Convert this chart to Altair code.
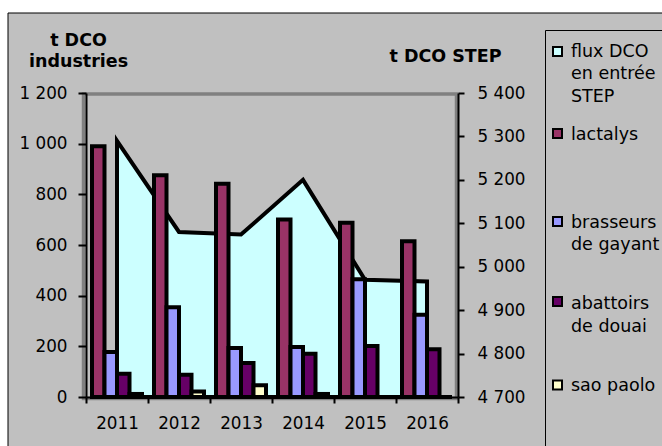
import altair as alt
import pandas as pd

# ---------------- data ----------------
years = ["2011", "2012", "2013", "2014", "2015", "2016"]
series = ["lactalys", "brasseurs de gayant", "abattoirs de douai", "sao paolo"]
lactalys = [990, 875, 842, 701, 688, 615]
brasseurs = [178, 354, 193, 197, 465, 325]
abattoirs = [92, 88, 134, 171, 201, 188]
sao_paolo = [12, 22, 46, 12, 0, 0]
flux_step = [5290, 5080, 5074, 5200, 4970, 4966]

legend_names = ["flux DCO en entrée STEP", "lactalys", "brasseurs de gayant",
                "abattoirs de douai", "sao paolo"]
legend_labels = ["flux DCO\nen entrée\nSTEP", "lactalys", "brasseurs\nde gayant",
                 "abattoirs\nde douai", "sao paolo"]
colors = ["#CCFFFF", "#993366", "#9999FF", "#660066", "#FFFFCC"]

left_ticks = [0, 200, 400, 600, 800, 1000, 1200]
right_ticks = [4700, 4800, 4900, 5000, 5100, 5200, 5300, 5400]

# ---------------- layout ----------------
W, H = 372, 304
PL, PT = 86, 93
FONT = "DejaVu Sans"
legend_square_abs_y = [51.5, 133.5, 221.5, 301.5, 385]
legend_text_abs_y = [56.5, 139.5, 227.5, 309, 390.5]

bars_df = pd.DataFrame(
    [{"year": y, "series": s, "value": v}
     for s, vals in zip(series, [lactalys, brasseurs, abattoirs, sao_paolo])
     for y, v in zip(years, vals)]
)
flux_df = pd.DataFrame({"year": years, "flux": flux_step})
legend_df = pd.DataFrame({
    "name": legend_names,
    "label": legend_labels,
    "sy": [v - PT for v in legend_square_abs_y],
    "ty": [v - PT for v in legend_text_abs_y],
})
one = pd.DataFrame({"a": [0]})

color_scale = alt.Scale(domain=legend_names, range=colors)
x_scale = alt.Scale(domain=years, paddingInner=0, paddingOuter=0)
x_axis = alt.Axis(title=None, labelAngle=0, tickBand="extent", tickSize=6,
                  labelPadding=12, zindex=1)
thousands = "replace(format(datum.value, ',d'), ',', ' ')"

# frame / backgrounds
frame = alt.Chart(one).mark_rect(fill="#C0C0C0", stroke="black", strokeWidth=1).encode(
    x=alt.value(8 - PL), x2=alt.value(720 - PL), y=alt.value(13 - PT), y2=alt.value(500 - PT))
legend_box = alt.Chart(one).mark_rect(fillOpacity=0, stroke="black", strokeWidth=1).encode(
    x=alt.value(545.5 - PL), x2=alt.value(720 - PL), y=alt.value(30.5 - PT), y2=alt.value(500 - PT))
wall = alt.Chart(one).mark_rect(fillOpacity=0, stroke="#808080", strokeWidth=3.5).encode(
    x=alt.value(-2.5), x2=alt.value(W - 1.5), y=alt.value(1), y2=alt.value(H + 1.5))

area = alt.Chart(flux_df).mark_area(
    fill="#CCFFFF", stroke="black", strokeWidth=4, strokeJoin="miter", opacity=1
).encode(
    x=alt.X("year:N", scale=x_scale, axis=x_axis),
    y=alt.Y("flux:Q",
            scale=alt.Scale(domain=[4700, 5400], zero=False, nice=False),
            axis=alt.Axis(orient="right", values=right_ticks, grid=False, tickSize=6,
                          labelPadding=13, labelExpr=thousands, zindex=1,
                          title="t DCO STEP", titleAngle=0, titleAlign="center",
                          titleBaseline="alphabetic", titleX=-13, titleY=61.5 - PT)),
    y2=alt.datum(4700),
)

bars = alt.Chart(bars_df).mark_bar(stroke="black", strokeWidth=4, opacity=1).encode(
    x=alt.X("year:N", scale=x_scale, axis=x_axis),
    xOffset=alt.XOffset("series:N", sort=series,
                        scale=alt.Scale(domain=series, paddingInner=0, paddingOuter=0.48)),
    y=alt.Y("value:Q",
            scale=alt.Scale(domain=[0, 1200], nice=False),
            axis=alt.Axis(orient="left", values=left_ticks, grid=False, tickSize=8,
                          labelPadding=11, labelExpr=thousands, zindex=1,
                          title=["t DCO", "industries"], titleAngle=0, titleAlign="center",
                          titleBaseline="alphabetic", titleX=-8, titleY=45.7 - PT,
                          titleLineHeight=21)),
    color=alt.Color("series:N", scale=color_scale, legend=None),
)

leg_sq = alt.Chart(legend_df).mark_square(
    size=81, filled=True, stroke="black", strokeWidth=2, opacity=1
).encode(
    x=alt.value(557.5 - PL),
    y=alt.Y("sy:Q", scale=None, axis=None),
    color=alt.Color("name:N", scale=color_scale, legend=None),
)
leg_tx = alt.Chart(legend_df).mark_text(
    align="left", baseline="alphabetic", lineBreak="\n", lineHeight=22.5,
    fontSize=17.5, font=FONT, color="black"
).encode(
    x=alt.value(571 - PL),
    y=alt.Y("ty:Q", scale=None, axis=None),
    text="label:N",
)

chart = alt.layer(frame, legend_box, wall, area, bars, leg_sq, leg_tx).resolve_scale(
    y="independent"
).properties(
    width=W, height=H,
    autosize=alt.AutoSizeParams(type="none"),
    padding={"left": PL, "top": PT, "right": 662 - PL - W, "bottom": 446 - PT - H},
    background="white",
).configure_view(strokeWidth=0).configure_axis(
    domainColor="black", domainWidth=2, tickColor="black", tickWidth=2,
    labelFont=FONT, labelFontSize=16.8, labelColor="black",
    titleFont=FONT, titleFontSize=17.5, titleFontWeight="bold", titleColor="black",
)

chart.save("out.html", embed_options={"renderer": "svg", "actions": False})
